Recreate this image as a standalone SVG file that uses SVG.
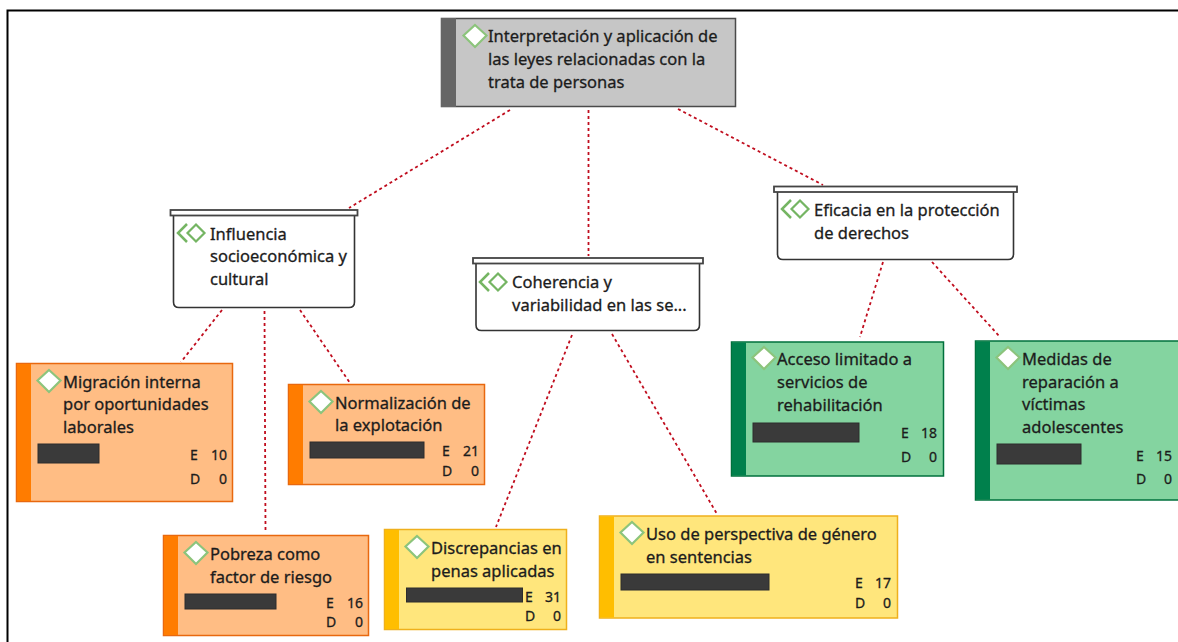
<svg xmlns="http://www.w3.org/2000/svg" width="1178" height="642" viewBox="0 0 1178 642">
<defs>
<g id="dia"><path d="M0-11L11.500-0.500 0 11-11.500-0.500Z" fill="#fff" stroke="#8cc47c" stroke-width="2.200"/></g>
<g id="dbl"><path d="M-9-9L-18 0-9 9" fill="none" stroke="#75b563" stroke-width="2.500"/><path d="M0-8.500L8.500 0 0 8.500-8.500 0Z" fill="#fff" stroke="#75b563" stroke-width="2.200"/></g>
</defs>
<style>
text{font-family:"Noto Sans","Open Sans","Liberation Sans",sans-serif;font-size:16.500px;fill:#1c1c1c;stroke:#1c1c1c;stroke-width:.3px}
text.m{font-size:14px}
text.n{font-size:14px;text-anchor:end}
.c{fill:none;stroke:#c00d1e;stroke-width:1.800;stroke-dasharray:3 3}
.o{fill:#ffbd84;stroke:#e8680f;stroke-width:1.500}.ob{fill:#ff7c00}
.y{fill:#ffe67c;stroke:#efb01c;stroke-width:1.500}.yb{fill:#ffbe00}
.g{fill:#84d4a0;stroke:#00703c;stroke-width:1.500}.gb{fill:#00804c}
.r{fill:#3a3a3a;stroke:#2c2c2c}
.t{fill:#fff;stroke:#444;stroke-width:1.800}
.cat{fill:#fff;stroke:#333;stroke-width:1.600}
</style>
<path d="M1178 10.500H7.500V642" fill="none" stroke="#000" stroke-width="2"/>
<g id="connectors">
<path class="c" d="M510 110L349 208"/><path class="c" d="M588.500 110V256"/><path class="c" d="M678 109L823 185"/>
<path class="c" d="M222 310L181 362"/><path class="c" d="M264.500 311L265.500 531"/><path class="c" d="M300 310L350 383"/>
<path class="c" d="M572 335L496 527"/><path class="c" d="M612 334L717 514"/>
<path class="c" d="M883 262L860 337"/><path class="c" d="M932 262L1000 337"/>
</g>
<g id="root"><rect x="441.500" y="18.500" width="294" height="88" fill="#c6c6c6" stroke="#4a4a4a" stroke-width="1.500"/><rect x="441" y="18" width="15" height="89" fill="#666"/><use href="#dia" x="475" y="36"/>
<text x="488" y="42">Interpretación y aplicación de</text><text x="488" y="65">las leyes relacionadas con la</text><text x="488" y="88">trata de personas</text></g>
<g id="cat1"><path class="cat" d="M173.500 215V302Q173.500 307.500 179 307.500H349Q354.500 307.500 354.500 302V215"/><rect class="t" x="170.500" y="210" width="187" height="5.500"/><use href="#dbl" x="196" y="233"/>
<text x="210" y="240">Influencia</text><text x="210" y="262">socioeconómica y</text><text x="210" y="285">cultural</text></g>
<g id="cat2"><path class="cat" d="M476 263V325Q476 330.500 481.500 330.500H694Q699.500 330.500 699.500 325V263"/><rect class="t" x="473" y="258" width="230" height="5.500"/><use href="#dbl" x="498" y="282"/>
<text x="512" y="288">Coherencia y</text><text x="512" y="311">variabilidad en las se...</text></g>
<g id="cat3"><path class="cat" d="M777.500 192V254Q777.500 259.500 783 259.500H1008Q1013.500 259.500 1013.500 254V192"/><rect class="t" x="774" y="186.500" width="243" height="5.500"/><use href="#dbl" x="800" y="209"/>
<text x="814" y="216">Eficacia en la protección</text><text x="814" y="239">de derechos</text></g>
<g id="n1"><rect class="o" x="16.500" y="363.500" width="216" height="138"/><rect class="ob" x="17" y="364" width="14" height="137"/><use href="#dia" x="49" y="381"/>
<text x="63" y="388">Migración interna</text><text x="63" y="410">por oportunidades</text><text x="63" y="433">laborales</text><rect class="r" x="38" y="444" width="61" height="19"/>
<text class="m" x="190" y="460">E</text><text class="n" x="227" y="460">10</text><text class="m" x="190" y="484">D</text><text class="n" x="227" y="484">0</text></g>
<g id="n2"><rect class="o" x="288.500" y="384.500" width="196" height="100"/><rect class="ob" x="289" y="385" width="14" height="99"/><use href="#dia" x="321" y="402"/>
<text x="335" y="409">Normalización de</text><text x="335" y="431">la explotación</text><rect class="r" x="310" y="442" width="114" height="16"/>
<text class="m" x="442" y="456">E</text><text class="n" x="479" y="456">21</text><text class="m" x="442" y="476">D</text><text class="n" x="479" y="476">0</text></g>
<g id="n3"><rect class="o" x="163.500" y="535.500" width="205" height="100"/><rect class="ob" x="164" y="536" width="14" height="99"/><use href="#dia" x="196" y="553"/>
<text x="210" y="560">Pobreza como</text><text x="210" y="583">factor de riesgo</text><rect class="r" x="185" y="594" width="91" height="15"/>
<text class="m" x="326" y="608">E</text><text class="n" x="363" y="608">16</text><text class="m" x="326" y="627">D</text><text class="n" x="363" y="627">0</text></g>
<g id="n4"><rect class="y" x="384.500" y="529.500" width="182" height="100"/><rect class="yb" x="385" y="530" width="14" height="99"/><use href="#dia" x="417" y="547"/>
<text x="431" y="554">Discrepancias en</text><text x="431" y="577">penas aplicadas</text><rect class="r" x="406.500" y="588" width="116" height="14"/>
<text class="m" x="525" y="602">E</text><text class="n" x="561" y="602">31</text><text class="m" x="525" y="621">D</text><text class="n" x="561" y="621">0</text></g>
<g id="n5"><rect class="y" x="599.500" y="516" width="298" height="102"/><rect class="yb" x="600" y="516.500" width="14" height="101"/><use href="#dia" x="632" y="533"/>
<text x="646" y="540">Uso de perspectiva de género</text><text x="646" y="563">en sentencias</text><rect class="r" x="621" y="574" width="148" height="16"/>
<text class="m" x="855" y="588">E</text><text class="n" x="891" y="588">17</text><text class="m" x="855" y="608">D</text><text class="n" x="891" y="608">0</text></g>
<g id="n6"><rect class="g" x="731.500" y="342" width="212" height="134"/><rect class="gb" x="732" y="342.500" width="14" height="133"/><use href="#dia" x="764" y="358"/>
<text x="777" y="365">Acceso limitado a</text><text x="777" y="388">servicios de</text><text x="777" y="411">rehabilitación</text><rect class="r" x="753" y="423" width="106" height="19"/>
<text class="m" x="901" y="438">E</text><text class="n" x="937" y="438">18</text><text class="m" x="901" y="462">D</text><text class="n" x="937" y="462">0</text></g>
<g id="n7"><rect class="g" x="975.500" y="341" width="210" height="159"/><rect class="gb" x="976" y="341.500" width="14" height="158"/><use href="#dia" x="1008" y="358"/>
<text x="1022" y="365">Medidas de</text><text x="1022" y="388">reparación a</text><text x="1022" y="410">víctimas</text><text x="1022" y="433">adolescentes</text><rect class="r" x="997" y="444" width="84" height="20"/>
<text class="m" x="1136" y="461">E</text><text class="n" x="1172" y="461">15</text><text class="m" x="1136" y="484">D</text><text class="n" x="1172" y="484">0</text></g>
</svg>
